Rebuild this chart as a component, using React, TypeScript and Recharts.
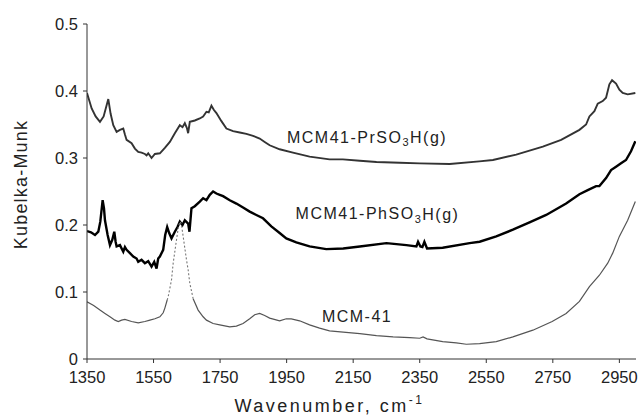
import React from 'react';
import { LineChart, Line, XAxis, YAxis, ReferenceDot, Label } from 'recharts';

const wavenumberTicks = [1350, 1550, 1750, 1950, 2150, 2350, 2550, 2750, 2950];
const kmTicks = [0, 0.1, 0.2, 0.3, 0.4, 0.5];

// MCM41-PrSO3H(g)
const prW = [1350, 1364, 1376, 1389, 1400, 1414, 1421, 1429, 1439, 1449, 1459, 1464, 1469, 1484, 1494, 1504, 1514, 1524, 1529, 1534, 1544, 1554, 1569, 1584, 1599, 1614, 1629, 1637, 1644, 1650, 1654, 1659, 1674, 1689, 1699, 1709, 1716, 1724, 1731, 1739, 1754, 1769, 1789, 1809, 1829, 1849, 1869, 1884, 1899, 1929, 1969, 2019, 2079, 2119, 2170, 2220, 2290, 2350, 2440, 2529, 2570, 2640, 2720, 2775, 2830, 2850, 2860, 2875, 2885, 2900, 2910, 2920, 2928, 2940, 2950, 2960, 2975, 2998];
const prKM = [0.397, 0.374, 0.362, 0.354, 0.362, 0.388, 0.366, 0.349, 0.339, 0.342, 0.344, 0.335, 0.327, 0.322, 0.314, 0.309, 0.308, 0.306, 0.304, 0.307, 0.300, 0.306, 0.307, 0.315, 0.324, 0.337, 0.349, 0.346, 0.352, 0.345, 0.337, 0.354, 0.356, 0.359, 0.362, 0.369, 0.368, 0.378, 0.372, 0.367, 0.355, 0.344, 0.340, 0.338, 0.336, 0.333, 0.329, 0.324, 0.319, 0.313, 0.308, 0.302, 0.298, 0.298, 0.296, 0.294, 0.293, 0.292, 0.291, 0.295, 0.297, 0.305, 0.317, 0.327, 0.342, 0.350, 0.362, 0.370, 0.381, 0.385, 0.390, 0.410, 0.416, 0.411, 0.402, 0.397, 0.395, 0.397];

// MCM41-PhSO3H(g)
const phW = [1350, 1362, 1374, 1384, 1390, 1397, 1401, 1404, 1412, 1419, 1426, 1432, 1436, 1439, 1449, 1459, 1464, 1469, 1479, 1489, 1499, 1504, 1514, 1524, 1534, 1544, 1552, 1559, 1564, 1569, 1579, 1585, 1591, 1597, 1604, 1614, 1622, 1629, 1637, 1644, 1654, 1658, 1664, 1674, 1689, 1699, 1709, 1719, 1729, 1739, 1749, 1759, 1779, 1799, 1819, 1839, 1859, 1879, 1904, 1929, 1949, 1979, 2019, 2069, 2120, 2170, 2250, 2310, 2340, 2345, 2352, 2358, 2364, 2372, 2419, 2500, 2530, 2580, 2630, 2680, 2730, 2790, 2830, 2855, 2880, 2890, 2910, 2925, 2940, 2955, 2970, 2985, 2998];
const phKM = [0.191, 0.189, 0.185, 0.190, 0.205, 0.237, 0.225, 0.207, 0.185, 0.170, 0.178, 0.190, 0.175, 0.168, 0.170, 0.160, 0.167, 0.163, 0.158, 0.153, 0.150, 0.145, 0.148, 0.143, 0.146, 0.138, 0.145, 0.135, 0.150, 0.153, 0.163, 0.185, 0.197, 0.188, 0.180, 0.190, 0.197, 0.205, 0.200, 0.207, 0.202, 0.190, 0.225, 0.228, 0.235, 0.240, 0.237, 0.245, 0.250, 0.247, 0.245, 0.243, 0.237, 0.232, 0.226, 0.220, 0.215, 0.210, 0.198, 0.188, 0.180, 0.174, 0.168, 0.164, 0.165, 0.168, 0.173, 0.170, 0.168, 0.175, 0.168, 0.167, 0.175, 0.165, 0.166, 0.173, 0.175, 0.183, 0.193, 0.204, 0.215, 0.232, 0.246, 0.252, 0.258, 0.258, 0.270, 0.282, 0.287, 0.292, 0.297, 0.310, 0.325];

// MCM-41 (solid before the band, dotted band, solid after)
const mcmLowW = [1350, 1370, 1389, 1404, 1419, 1434, 1444, 1454, 1464, 1484, 1504, 1524, 1539, 1554, 1569, 1579, 1584, 1591];
const mcmLowKM = [0.0855, 0.080, 0.073, 0.068, 0.063, 0.058, 0.056, 0.058, 0.059, 0.056, 0.054, 0.056, 0.058, 0.060, 0.063, 0.069, 0.076, 0.088];
const mcmBandW = [1591, 1594, 1604, 1609, 1619, 1625, 1630, 1634, 1639, 1649, 1654, 1659, 1669];
const mcmBandKM = [0.088, 0.093, 0.118, 0.143, 0.178, 0.198, 0.205, 0.200, 0.183, 0.148, 0.133, 0.113, 0.090];
const mcmHighW = [1669, 1684, 1699, 1709, 1729, 1749, 1779, 1799, 1819, 1839, 1854, 1869, 1884, 1899, 1929, 1949, 1964, 1989, 2019, 2049, 2079, 2120, 2170, 2220, 2270, 2320, 2350, 2360, 2372, 2419, 2460, 2490, 2530, 2580, 2630, 2690, 2748, 2790, 2830, 2860, 2890, 2915, 2930, 2950, 2975, 2998];
const mcmHighKM = [0.090, 0.073, 0.063, 0.058, 0.053, 0.051, 0.048, 0.049, 0.053, 0.060, 0.066, 0.068, 0.065, 0.061, 0.057, 0.060, 0.060, 0.057, 0.051, 0.046, 0.042, 0.040, 0.038, 0.035, 0.033, 0.032, 0.031, 0.033, 0.030, 0.026, 0.024, 0.022, 0.023, 0.026, 0.033, 0.043, 0.056, 0.068, 0.086, 0.108, 0.125, 0.143, 0.158, 0.183, 0.207, 0.235];

// annotation anchors (wavenumber, Kubelka-Munk)
const labelPr = { w: 1951, km: 0.331, main: 'MCM41-PrSO', sub: '3', tail: 'H(g)' };
const labelPh = { w: 1977, km: 0.217, main: 'MCM41-PhSO', sub: '3', tail: 'H(g)' };
const labelMcm = { w: 2056, km: 0.064, main: 'MCM-41', sub: '', tail: '' };

const toPoints = (w: number[], v: number[]) => w.map((x, i) => ({ w: x, km: v[i] }));
const prData = toPoints(prW, prKM);
const phData = toPoints(phW, phKM);
const mcmLow = toPoints(mcmLowW, mcmLowKM);
const mcmBand = toPoints(mcmBandW, mcmBandKM);
const mcmHigh = toPoints(mcmHighW, mcmHighKM);

const FONT = '"Liberation Sans", Arial, Helvetica, sans-serif';
const TEXT = '#222';

const seriesLabel = (l: { main: string; sub: string; tail: string }) => (props: any) => (
  <text
    x={props.cx}
    y={props.cy}
    fontFamily={FONT}
    fontSize={16}
    fill={TEXT}
    textAnchor="start"
    dominantBaseline="central"
    style={{ letterSpacing: '1.5px' }}
  >
    {l.main}
    {l.sub ? (
      <tspan fontSize={11} dy={5}>
        {l.sub}
      </tspan>
    ) : null}
    {l.tail ? <tspan dy={l.sub ? -5 : 0}>{l.tail}</tspan> : null}
  </text>
);

const XTitle = (props: any) => {
  const vb = props.viewBox;
  return (
    <text
      x={vb.x + vb.width / 2 - 32}
      y={vb.y + 53}
      fontFamily={FONT}
      fontSize={18}
      fill={TEXT}
      textAnchor="middle"
      style={{ letterSpacing: '2.5px' }}
    >
      Wavenumber, cm
      <tspan fontSize={12} dy={-8}>
        -1
      </tspan>
    </text>
  );
};

const YTitle = (props: any) => {
  const vb = props.viewBox;
  const cx = 21;
  const cy = vb.y + vb.height / 2 - 7;
  return (
    <text
      x={cx}
      y={cy}
      transform={`rotate(-90, ${cx}, ${cy})`}
      fontFamily={FONT}
      fontSize={18}
      fill={TEXT}
      textAnchor="middle"
      dominantBaseline="central"
      style={{ letterSpacing: '1.2px' }}
    >
      Kubelka-Munk
    </text>
  );
};

export default function App() {
  return (
    <div style={{ position: 'absolute', left: 0, top: 0, width: 643, height: 420, background: '#fff' }}>
      <LineChart width={643} height={420} margin={{ top: 24, right: 7, bottom: 0, left: 0 }}>
        <XAxis
          type="number"
          dataKey="w"
          domain={[1350, 3000]}
          ticks={wavenumberTicks}
          allowDataOverflow
          height={61}
          tickSize={4}
          tickMargin={8}
          stroke="#333"
          tick={{ fill: TEXT, fontSize: 16.5, fontFamily: FONT }}
        >
          <Label content={XTitle} />
        </XAxis>
        <YAxis
          type="number"
          dataKey="km"
          domain={[0, 0.5]}
          ticks={kmTicks}
          width={87}
          tickSize={4}
          tickMargin={5}
          stroke="#333"
          tick={{ fill: TEXT, fontSize: 16.5, fontFamily: FONT }}
        >
          <Label content={YTitle} />
        </YAxis>
        <Line data={prData} dataKey="km" type="linear" stroke="#333" strokeWidth={1.9} dot={false} isAnimationActive={false} />
        <Line data={phData} dataKey="km" type="linear" stroke="#000" strokeWidth={2.4} dot={false} isAnimationActive={false} />
        <Line data={mcmLow} dataKey="km" type="linear" stroke="#555" strokeWidth={1.2} dot={false} isAnimationActive={false} />
        <Line data={mcmBand} dataKey="km" type="linear" stroke="#777" strokeWidth={1.1} strokeDasharray="2 2" dot={false} isAnimationActive={false} />
        <Line data={mcmHigh} dataKey="km" type="linear" stroke="#555" strokeWidth={1.2} dot={false} isAnimationActive={false} />
        <ReferenceDot x={labelPr.w} y={labelPr.km} r={0} shape={seriesLabel(labelPr)} />
        <ReferenceDot x={labelPh.w} y={labelPh.km} r={0} shape={seriesLabel(labelPh)} />
        <ReferenceDot x={labelMcm.w} y={labelMcm.km} r={0} shape={seriesLabel(labelMcm)} />
      </LineChart>
    </div>
  );
}
